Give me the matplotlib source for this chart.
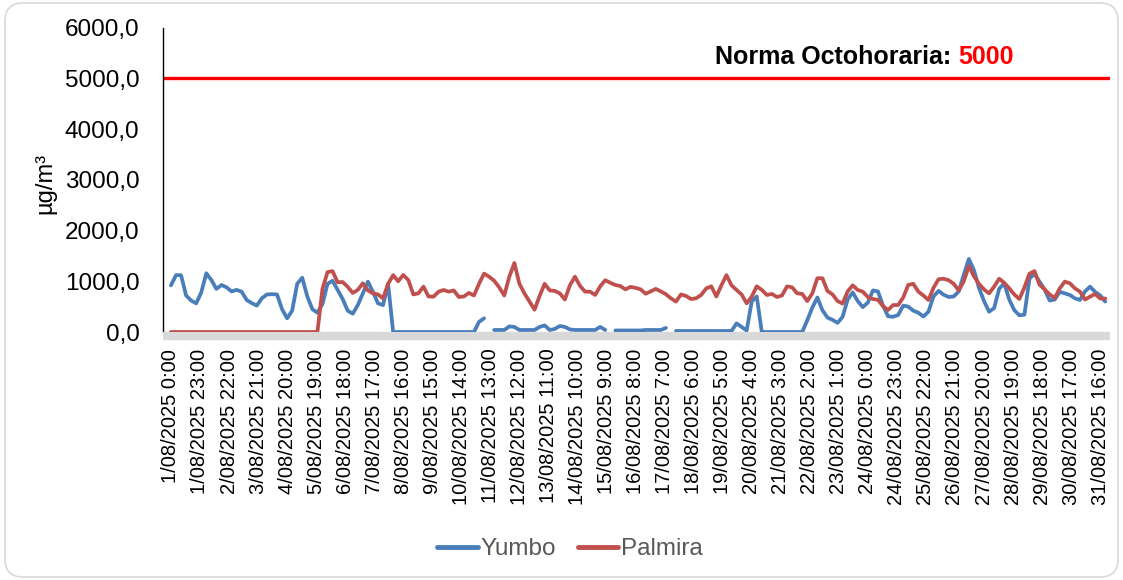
import matplotlib
matplotlib.use("Agg")
import matplotlib.pyplot as plt
import numpy as np
from matplotlib.patches import FancyBboxPatch
from matplotlib.transforms import IdentityTransform
from matplotlib.ticker import FuncFormatter

nan = float("nan")

# values read every 4 hours, 1/08/2025 0:00 -> 31/08/2025 20:00
STEP_HOURS = 4

yumbo = [
    920, 1120, 1120, 720, 620, 565,      # 1/08
    780, 1157, 1025, 850, 927, 881,      # 2/08
    800, 830, 795, 630, 570, 520,        # 3/08
    664, 740, 745, 740, 450, 270,        # 4/08
    420, 950, 1070, 700, 450, 380,       # 5/08
    550, 950, 1010, 830, 650, 420,       # 6/08
    360, 530, 760, 993, 790, 565,        # 7/08
    530, 950, 0, 0, 0, 0,                # 8/08
    0, 0, 0, 0, 0, 0,                    # 9/08
    0, 0, 0, 0, 0, 0,                    # 10/08
    0, 200, 270, nan, 40, 40,            # 11/08
    40, 110, 100, 40, 40, 40,            # 12/08
    40, 100, 130, 40, 60, 118,           # 13/08
    100, 50, 40, 40, 40, 40,             # 14/08
    40, 100, 40, nan, 30, 30,            # 15/08
    30, 30, 30, 30, 40, 40,              # 16/08
    40, 40, 80, nan, 20, 20,             # 17/08
    20, 20, 20, 20, 20, 20,              # 18/08
    20, 20, 20, 20, 170, 100,            # 19/08
    30, 600, 700, 0, 0, 0,               # 20/08
    0, 0, 0, 0, 0, 0,                    # 21/08
    230, 480, 680, 430, 285, 240,        # 22/08
    180, 300, 640, 780, 610, 490,        # 23/08
    580, 820, 800, 520, 310, 300,        # 24/08
    335, 520, 500, 420, 380, 305,        # 25/08
    400, 700, 810, 735, 690, 700,        # 26/08
    800, 1130, 1440, 1220, 870, 610,     # 27/08
    400, 470, 850, 960, 640, 430,        # 28/08
    330, 340, 1050, 1150, 990, 840,      # 29/08
    620, 640, 790, 762, 730, 664,        # 30/08
    631, 800, 894, 790, 720, 600,        # 31/08
]

palmira = [
    0, 0, 0, 0, 0, 0,                    # 1/08
    0, 0, 0, 0, 0, 0,                    # 2/08
    0, 0, 0, 0, 0, 0,                    # 3/08
    0, 0, 0, 0, 0, 0,                    # 4/08
    0, 0, 0, 0, 0, 0,                    # 5/08
    850, 1180, 1200, 980, 985, 890,      # 6/08
    770, 830, 960, 820, 762, 740,        # 7/08
    664, 950, 1120, 1000, 1124, 1025,    # 8/08
    740, 762, 894, 700, 697, 795,        # 9/08
    828, 795, 820, 690, 700, 770,        # 10/08
    720, 950, 1150, 1090, 1010, 880,     # 11/08
    720, 1090, 1360, 950, 760, 600,      # 12/08
    440, 710, 950, 820, 810, 762,        # 13/08
    640, 920, 1091, 910, 795, 795,       # 14/08
    730, 900, 1020, 970, 927, 905,       # 15/08
    840, 890, 870, 840, 755, 800,        # 16/08
    850, 800, 745, 664, 600, 740,        # 17/08
    710, 650, 665, 730, 860, 900,        # 18/08
    700, 920, 1120, 920, 828, 740,       # 19/08
    565, 697, 900, 830, 730, 750,        # 20/08
    690, 720, 900, 880, 762, 750,        # 21/08
    610, 760, 1060, 1060, 810, 740,      # 22/08
    610, 560, 800, 920, 828, 795,        # 23/08
    690, 650, 635, 510, 434, 530,        # 24/08
    532, 680, 927, 950, 795, 720,        # 25/08
    630, 870, 1040, 1050, 1020, 950,     # 26/08
    820, 1000, 1300, 1100, 950, 840,     # 27/08
    762, 894, 1050, 970, 860, 740,       # 28/08
    650, 880, 1150, 1200, 930, 840,      # 29/08
    740, 670, 860, 993, 960, 861,        # 30/08
    795, 640, 697, 750, 660, 660,        # 31/08
]

NORMA = 5000

tick_hours = [0, 23, 46, 69, 92, 115, 138, 161, 184, 207, 230, 253, 276, 299,
              322, 345, 368, 391, 414, 437, 460, 483, 506, 529, 552, 575, 598,
              621, 644, 667, 690, 713, 736]
tick_labels = [
    "1/08/2025 0:00", "1/08/2025 23:00", "2/08/2025 22:00", "3/08/2025 21:00",
    "4/08/2025 20:00", "5/08/2025 19:00", "6/08/2025 18:00", "7/08/2025 17:00",
    "8/08/2025 16:00", "9/08/2025 15:00", "10/08/2025 14:00", "11/08/2025 13:00",
    "12/08/2025 12:00", "13/08/2025 11:00", "14/08/2025 10:00", "15/08/2025 9:00",
    "16/08/2025 8:00", "17/08/2025 7:00", "18/08/2025 6:00", "19/08/2025 5:00",
    "20/08/2025 4:00", "21/08/2025 3:00", "22/08/2025 2:00", "23/08/2025 1:00",
    "24/08/2025 0:00", "24/08/2025 23:00", "25/08/2025 22:00", "26/08/2025 21:00",
    "27/08/2025 20:00", "28/08/2025 19:00", "29/08/2025 18:00", "30/08/2025 17:00",
    "31/08/2025 16:00",
]
y_ticks = [0, 1000, 2000, 3000, 4000, 5000, 6000]

plt.rcParams["font.family"] = ["Liberation Sans", "DejaVu Sans"]

hours = np.arange(len(yumbo)) * STEP_HOURS

W, H = 1123, 580
fig = plt.figure(figsize=(W / 100, H / 100), dpi=100)
ax = fig.add_axes([163 / W, 1 - 332 / H, (1110 - 163) / W, (332 - 27.6) / H])

# spines first (set_position resets tick properties)
for s in ("top", "right"):
    ax.spines[s].set_visible(False)
ax.spines["bottom"].set_position(("outward", 3))
ax.spines["left"].set_color("#000000")
ax.spines["left"].set_linewidth(1.0)
ax.spines["bottom"].set_color("#D9D9D9")
ax.spines["bottom"].set_linewidth(6)
ax.spines["bottom"].set_capstyle("butt")

ax.axhline(NORMA, color="#FF0000", lw=2.4, zorder=2)
ax.plot(hours, yumbo, color="#4A7EBB", lw=2.7, label="Yumbo", zorder=3,
        solid_joinstyle="round", solid_capstyle="round")
ax.plot(hours, palmira, color="#C0504D", lw=2.7, label="Palmira", zorder=4,
        solid_joinstyle="round", solid_capstyle="round")

ax.set_xlim(-6.3, 743.8)
ax.set_ylim(0, 6000)
ax.set_yticks(y_ticks)
ax.yaxis.set_major_formatter(FuncFormatter(lambda v, p: f"{v:.1f}".replace(".", ",")))
ax.set_xticks(tick_hours)
ax.set_xticklabels(tick_labels, rotation=90, fontsize=14.5, color="#000000")
ax.tick_params(axis="x", length=0, pad=9)
ax.tick_params(axis="y", length=0, pad=17, labelsize=17.5, labelcolor="#000000")

fig.text(45 / W, 1 - 183 / H, "µg/m³", rotation=90, fontsize=17,
         ha="center", va="center", color="#000000")

t1 = ax.text(715 / W, 1 - 57 / H, "Norma Octohoraria:", fontsize=18,
             fontweight="bold", color="#000000", ha="left", va="center",
             transform=fig.transFigure)
ax.annotate("5000", xy=(1, 0.5), xycoords=t1, xytext=(5, 0),
            textcoords="offset points", fontsize=18, fontweight="bold",
            color="#FF0000", ha="left", va="center")

leg = fig.legend(loc="center", bbox_to_anchor=(570 / W, 1 - 549 / H), ncol=2,
                 frameon=False, fontsize=17.5, handlelength=1.67,
                 handletextpad=0.1, columnspacing=0.9)
for line in leg.get_lines():
    line.set_linewidth(3.5)
for txt in leg.get_texts():
    txt.set_color("#595959")

border = FancyBboxPatch((5, 3), 1113, 574,
                        boxstyle="round,pad=0,rounding_size=18",
                        transform=IdentityTransform(), fill=False,
                        ec="#D9D9D9", lw=1.2)
fig.patches.append(border)

fig.savefig("out.png", dpi=100)
